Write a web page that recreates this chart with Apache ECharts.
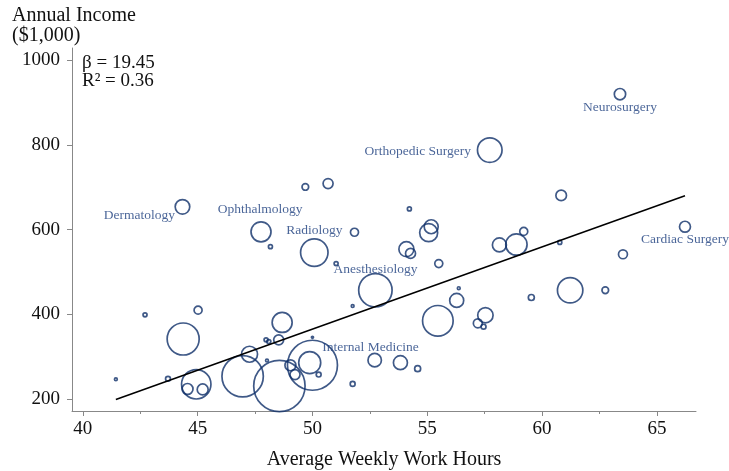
<!DOCTYPE html>
<html>
<head>
<meta charset="utf-8">
<script src="https://cdn.jsdelivr.net/npm/echarts@6/dist/echarts.min.js"></script>
<style>
  html, body { margin: 0; padding: 0; background: #fff; }
  #chart { width: 729px; height: 471px; }
</style>
</head>
<body>
<div id="chart"></div>
<script>
'use strict';

// Specialties: hours, income ($1,000), weight (bubble area)
var hours = [44.34, 49.69, 47.76, 48.17, 50.08, 42.71, 45.02, 44.37, 48.68, 48.53,
    47.98, 48.10, 41.44, 43.71, 44.94, 44.56, 45.22, 46.96, 47.26, 48.56,
    48.02, 50.00, 50.00, 49.88, 49.04, 49.24, 50.27, 51.75, 51.75, 57.72,
    50.68, 54.22, 51.83, 51.03, 52.74, 55.17, 55.06, 54.09, 54.27, 55.50,
    58.14, 58.88, 59.20, 56.37, 56.28, 59.53, 55.46, 57.53, 57.20, 57.45,
    52.71, 53.83, 54.58, 63.39, 60.83, 60.77, 66.22, 63.52, 61.22, 62.75];
var income = [654, 701, 595, 560, 546, 399, 410, 342, 381, 340,
    340, 336, 247, 248, 235, 224, 223, 254, 306, 231,
    291, 346, 280, 286, 280, 258, 258, 236, 420, 788,
    709, 649, 594, 520, 457, 607, 593, 554, 544, 520,
    564, 565, 596, 462, 433, 440, 385, 398, 379, 371,
    292, 286, 272, 920, 681, 570, 607, 542, 457, 457];
var weights = [53, 11, 100, 4, 188, 4, 16, 256, 100, 25,
    4, 4, 2, 6, 216, 30, 30, 428, 64, 660,
    2, 1, 625, 121, 30, 25, 6, 6, 2, 151,
    25, 4, 16, 4, 279, 49, 81, 56, 25, 16,
    49, 114, 16, 2, 49, 9, 234, 59, 20, 6,
    45, 49, 9, 32, 28, 4, 30, 20, 161, 11];
var names = ['Dermatology', '', 'Ophthalmology', '', 'Radiology', '', '', '', '', '',
    '', '', '', '', '', '', '', '', '', '',
    '', '', 'Internal Medicine', '', '', '', '', '', '', 'Orthopedic Surgery',
    '', '', '', '', 'Anesthesiology', '', '', '', '', '',
    '', '', '', '', '', '', '', '', '', '',
    '', '', '', 'Neurosurgery', '', '', 'Cardiac Surgery', '', '', ''];

var fitX = [41.44, 66.22];
var fitY = [199, 680];
var xTicks = [40, 45, 50, 55, 60, 65];
var xMinorTicks = [42.5, 47.5, 52.5, 57.5, 62.5];
var yTicks = [200, 400, 600, 800, 1000];

var navy = '#0f2f69';
var serif = "'Liberation Serif', 'Times New Roman', serif";

// where each specialty name sits relative to its bubble
var labelOffsets = {
    'Dermatology': [-43, 9],
    'Ophthalmology': [-1, -22],
    'Radiology': [0, -22],
    'Internal Medicine': [58, -18],
    'Orthopedic Surgery': [-72, 1],
    'Anesthesiology': [0, -21],
    'Neurosurgery': [0, 13],
    'Cardiac Surgery': [0, 13]
};

var bubbles = hours.map(function (h, i) {
    var item = {
        value: [h, income[i], weights[i]],
        name: names[i]
    };
    if (names[i]) {
        item.label = {
            show: true,
            position: 'inside',
            offset: labelOffsets[names[i]],
            formatter: '{b}'
        };
    }
    return item;
});

var plainNum = function (v) { return String(v); };

var chart = echarts.init(document.getElementById('chart'));
chart.setOption({
    animation: false,
    grid: {
        left: 72,
        right: 33,
        top: 48,
        bottom: 60,
        outerBoundsMode: 'none',
        containLabel: false
    },
    xAxis: [{
        type: 'value',
        min: 39.53,
        max: 66.7,
        name: 'Average Weekly Work Hours',
        nameLocation: 'middle',
        nameGap: 39,
        nameTextStyle: { fontFamily: serif, fontSize: 20, color: '#111' },
        axisLine: { show: true, lineStyle: { color: '#888', width: 1 } },
        axisTick: { show: true, length: 5, customValues: xTicks, lineStyle: { color: '#888' } },
        axisLabel: { customValues: xTicks, margin: 9, fontFamily: serif, fontSize: 19, color: '#111', formatter: plainNum },
        splitLine: { show: false }
    }, {
        // minor ticks
        type: 'value',
        position: 'bottom',
        min: 39.53,
        max: 66.7,
        axisLine: { show: false },
        axisTick: { show: true, length: 3, customValues: xMinorTicks, lineStyle: { color: '#888' } },
        axisLabel: { show: false },
        splitLine: { show: false }
    }],
    yAxis: {
        type: 'value',
        min: 172,
        max: 1029,
        axisLine: { show: true, lineStyle: { color: '#888', width: 1 } },
        axisTick: { show: true, length: 5, customValues: yTicks, lineStyle: { color: '#888' } },
        axisLabel: { customValues: yTicks, margin: 12, fontFamily: serif, fontSize: 19, color: '#111', formatter: plainNum },
        splitLine: { show: false }
    },
    graphic: [{
        type: 'text',
        left: 12,
        top: 6,
        style: {
            text: 'Annual Income\n($1,000)',
            font: '20px ' + serif,
            lineHeight: 20,
            fill: '#111'
        }
    }, {
        type: 'text',
        left: 82,
        top: 54,
        style: {
            text: 'β = 19.45\nR² = 0.36',
            font: '19px ' + serif,
            lineHeight: 18,
            fill: '#111'
        }
    }],
    series: [{
        name: 'fit',
        type: 'line',
        data: [[fitX[0], fitY[0]], [fitX[1], fitY[1]]],
        symbol: 'none',
        lineStyle: { color: '#000', width: 1.5 },
        z: 3
    }, {
        name: 'specialties',
        type: 'scatter',
        data: bubbles,
        symbol: 'circle',
        symbolSize: function (val) {
            return 2 * Math.sqrt(val[2]);
        },
        itemStyle: {
            color: 'rgba(0,0,0,0)',
            borderColor: navy,
            borderWidth: 1.7
        },
        label: {
            show: false,
            fontFamily: serif,
            fontSize: 13.5,
            color: '#1d3f7e'
        },
        z: 2
    }]
});
</script>
</body>
</html>
